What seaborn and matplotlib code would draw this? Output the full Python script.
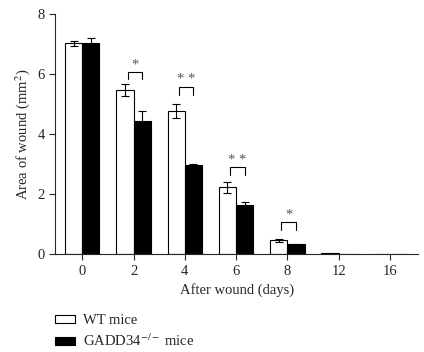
import numpy as np
import pandas as pd
import matplotlib
matplotlib.use("Agg")
import matplotlib.pyplot as plt
import seaborn as sns
from matplotlib.patches import Patch

# data
days = ["0", "2", "4", "6", "8", "12", "16"]
wt_area = [7.03, 5.47, 4.77, 2.23, 0.47, 0.05, 0.0]
wt_err = [0.08, 0.20, 0.23, 0.18, 0.05, 0.0, 0.0]
ko_area = [7.03, 4.43, 2.97, 1.63, 0.33, 0.02, 0.0]
ko_err = [0.17, 0.33, 0.05, 0.10, 0.02, 0.0, 0.0]
groups = ["WT mice", "GADD34$^{-/-}$ mice"]

# significance marks: day index, label, bracket height
sig_idx = [1, 2, 3, 4]
sig_lbl = ["*", "* *", "* *", "*"]
sig_top = [6.07, 5.57, 2.90, 1.07]

df = pd.DataFrame({
    "day": days * 2,
    "area": wt_area + ko_area,
    "group": [groups[0]] * len(days) + [groups[1]] * len(days),
})

sns.set_style("ticks")
plt.rcParams["font.family"] = ["Liberation Serif", "DejaVu Serif"]
plt.rcParams["mathtext.fontset"] = "stix"

fig = plt.figure(figsize=(4.24, 3.52), dpi=100)
ax = fig.add_axes([0.130, 0.278, 0.856, 0.682])

sns.barplot(data=df, x="day", y="area", hue="group", order=days,
            hue_order=groups, palette=["white", "black"], width=0.67,
            edgecolor="black", linewidth=0.8, errorbar=None, legend=False, ax=ax)

# error bars on top of each bar
for cont, errs in zip(ax.containers, [wt_err, ko_err]):
    xs = [p.get_x() + p.get_width() / 2 for p in cont]
    hs = [p.get_height() for p in cont]
    e = np.array(errs)
    mask = e > 0
    ax.errorbar(np.array(xs)[mask], np.array(hs)[mask], yerr=e[mask], fmt="none",
                ecolor="black", elinewidth=0.8, capsize=3, capthick=0.8, zorder=5)

# significance brackets
for i, lbl, top in zip(sig_idx, sig_lbl, sig_top):
    p1 = ax.containers[0][i]
    p2 = ax.containers[1][i]
    x1 = p1.get_x() + p1.get_width() / 2 + 0.05
    x2 = p2.get_x() + p2.get_width() / 2
    ax.plot([x1, x1, x2, x2], [top - 0.25, top, top, top - 0.25], color="black", lw=0.8)
    ax.text((x1 + x2) / 2, top + 0.02, lbl, ha="center", va="bottom", fontsize=10.5,
            color="#555555")

ax.set_xlim(-0.53, 6.55)
ax.set_ylim(0, 8)
ax.set_yticks([0, 2, 4, 6, 8])
ax.set_xlabel("After wound (days)", fontsize=10.5, labelpad=4)
ax.set_ylabel("Area of wound (mm$^2$)", fontsize=10.5, labelpad=4)
ax.tick_params(axis="both", labelsize=10.5, length=4, width=0.8, direction="out")
for s in ["left", "bottom"]:
    ax.spines[s].set_linewidth(0.8)
sns.despine(ax=ax)

handles = [Patch(facecolor="white", edgecolor="black", linewidth=0.8),
           Patch(facecolor="black", edgecolor="black", linewidth=0.8)]
fig.legend(handles, groups, loc="upper left", bbox_to_anchor=(0.115, 0.124),
           frameon=False, fontsize=10.5, handlelength=1.37, handleheight=0.55,
           handletextpad=0.55, labelspacing=0.37, borderaxespad=0)

fig.savefig("out.png", dpi=100)
